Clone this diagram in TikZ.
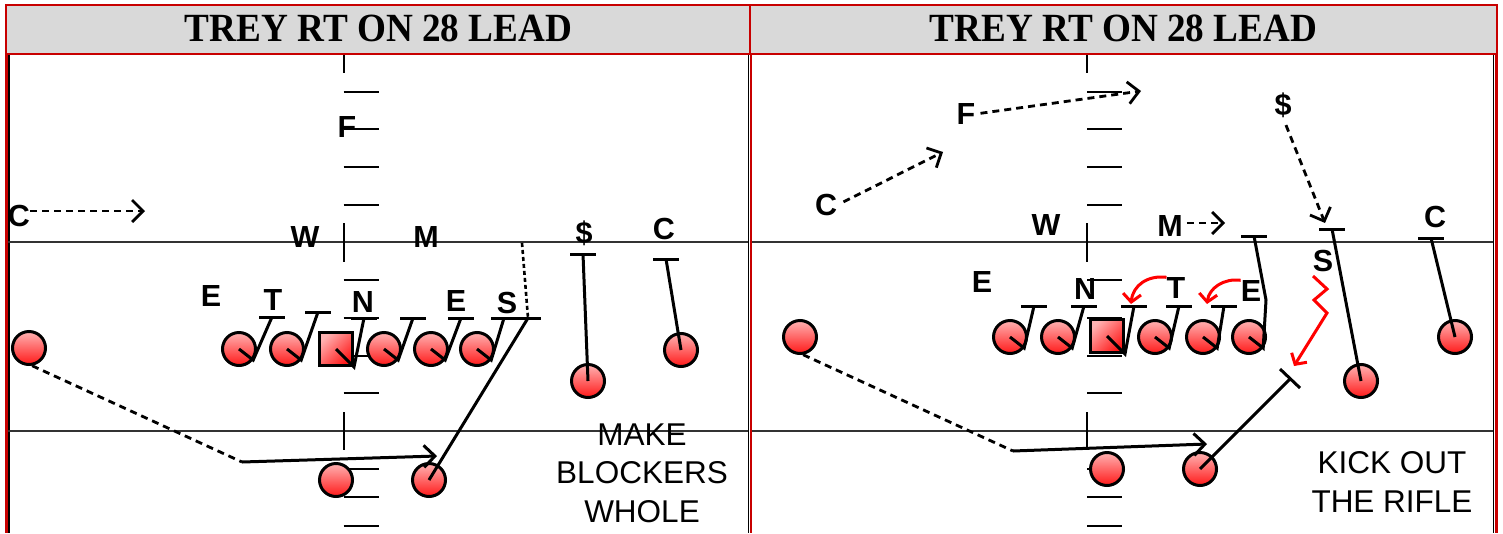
\documentclass[tikz,border=0pt]{standalone}
\usepackage{fontspec}
\setmainfont{Liberation Sans}
\newfontfamily\titlefont[FakeStretch=0.93]{Liberation Serif}
\usetikzlibrary{arrows.meta}
\definecolor{hdrred}{RGB}{200,0,0}
\definecolor{hdrgray}{RGB}{217,217,217}
\definecolor{ballhi}{RGB}{255,178,178}
\definecolor{balllo}{RGB}{255,25,25}
\newcommand\mybar[1]{\draw[blk] ([xshift=-13pt]#1) -- ([xshift=13pt]#1);}
\begin{document}
\begin{tikzpicture}[x=1pt,y=-1pt,
  hdr/.style={fill=hdrgray,draw=hdrred,line width=2.5pt},
  ttl/.style={font=\titlefont\bfseries\fontsize{40}{40}\selectfont,inner sep=0pt},
  fld/.style={line width=2pt,draw=black!80},
  hash/.style={line width=2pt,draw=black},
  redside/.style={line width=2.5pt,draw=hdrred},
  blkside/.style={line width=1.5pt,draw=black},
  plr/.style={circle,draw=black,line width=3pt,minimum size=33pt,inner sep=0pt,top color=ballhi,bottom color=balllo},
  ctr/.style={rectangle,draw=black,line width=3pt,minimum size=33pt,inner sep=0pt,top color=ballhi,bottom color=balllo,shading angle=45},
  lbl/.style={font=\bfseries\fontsize{30.5}{30.5}\selectfont,inner sep=0pt},
  note/.style={font=\fontsize{31.5}{38.5}\selectfont,inner sep=0pt,align=center},
  dsh/.style={line width=2.8pt,dash pattern=on 7pt off 5pt},
  dotl/.style={line width=2.6pt,dash pattern=on 4pt off 3pt},
  arr/.style={-{Straight Barb[length=11pt,width=22pt]}},
  rarr/.style={-{Straight Barb[length=8pt,width=18pt]}},
  blk/.style={line width=3pt},
  redl/.style={line width=3pt,draw=red}]
\useasboundingbox (0,0) rectangle (1503,533);
% headers
\draw[hdr] (6,5) rectangle (751,54);
\draw[hdr] (750,5) rectangle (1497,54);
\node[ttl] (t1) at (378.5,28.5) {TREY RT ON 28 LEAD};
\node[ttl] (t2) at (1123.5,28.5) {TREY RT ON 28 LEAD};
% side lines
\draw[blkside] (9,55) -- (9,533);
\draw[blkside] (748.5,55) -- (748.5,533);
\draw[blkside] (1493.5,55) -- (1493.5,533);
\draw[redside] (6.5,55) -- (6.5,533);
\draw[redside] (751,55) -- (751,533);
\draw[redside] (1496.5,55) -- (1496.5,533);
% field lines
\draw[fld] (8,242) -- (748,242);
\draw[fld] (8,431) -- (748,431);
\draw[fld] (752,242) -- (1493,242);
\draw[fld] (752,431) -- (1493,431);
\foreach \hx in {343.5,1087}{
  \foreach \yy in {92,129,167,205,280,318,356,393,469,497,526}
    \draw[hash] (\hx,\yy) -- (\hx+35,\yy);
  \draw[hash] (\hx,55) -- (\hx,73);
  \draw[hash] (\hx,223) -- (\hx,262);
  \draw[hash] (\hx,412) -- (\hx,450);
}
% ================= LEFT PANEL =================
\node[plr] (lwr) at (29,348) {};
\node[plr] (lg1) at (239,349) {};
\node[plr] (lg2) at (287,349) {};
\node[ctr] (lc) at (336,349) {};
\node[plr] (lg4) at (384,349) {};
\node[plr] (lg5) at (431,349) {};
\node[plr] (lg6) at (477,349) {};
\node[plr] (lsl) at (588,381) {};
\node[plr] (lwr2) at (681,350) {};
\node[plr] (lqb) at (336,480) {};
\node[plr] (lte) at (429,480) {};
% defense labels
\node[lbl] (lC) at (19,216) {C};
\node[lbl] (lF) at (347,127) {F};
\node[lbl] (lW) at (305,237) {W};
\node[lbl] (lM) at (426,237) {M};
\node[lbl] (lD) at (584,233) {\$};
\node[lbl] (lC2) at (664,229) {C};
\node[lbl] (lE) at (211,296) {E};
\node[lbl] (lT) at (273,300) {T};
\node[lbl] (lN) at (363,302) {N};
\node[lbl] (lE2) at (456,301) {E};
\node[lbl] (lS) at (507,303) {S};
% coordinates
\coordinate (lcA) at (145,211);
\coordinate (lrb) at (242,462);
\coordinate (lrbA) at (437,456);
\coordinate (lb1) at (272,317);
\coordinate (lb2) at (318,312);
\coordinate (lb3) at (364,318);
\coordinate (lb4) at (413,318);
\coordinate (lb5) at (461,318);
\coordinate (lb6) at (504,318);
\coordinate (lbs) at (528,318);
\coordinate (lsd) at (522,243);
\coordinate (lbd) at (583,254);
\coordinate (lbc) at (666,259);
% routes
\draw[dsh,arr] (lC.east |- lcA) -- (lcA);
\draw[dsh] (lwr.-80) -- (lrb);
\draw[blk,arr] (lrb) -- (lrbA);
\draw[blk] (lg1.center) -- (lg1.-38) -- (lb1); \mybar{lb1}
\draw[blk] (lg2.center) -- (lg2.-38) -- (lb2); \mybar{lb2}
\draw[blk] (lc.center) -- (lc.south east) -- (lb3); \mybar{lb3}
\draw[blk] (lg4.center) -- (lg4.-38) -- (lb4); \mybar{lb4}
\draw[blk] (lg5.center) -- (lg5.-38) -- (lb5); \mybar{lb5}
\draw[blk] (lg6.center) -- (lg6.-38) -- (lb6); \mybar{lb6}
\draw[blk] (lte.center) -- (lbs); \mybar{lbs}
\draw[dotl] (lsd) -- (lbs);
\draw[blk] (lsl.center) -- (lbd); \mybar{lbd}
\draw[blk] (lwr2.center) -- (lbc); \mybar{lbc}
\node[note] (ln) at (642,473) {MAKE\\BLOCKERS\\WHOLE};
% ================= RIGHT PANEL =================
\node[plr] (rwr) at (800,337) {};
\node[plr] (rg1) at (1010,337) {};
\node[plr] (rg2) at (1058,337) {};
\node[ctr] (rc) at (1107,336) {};
\node[plr] (rg4) at (1155,337) {};
\node[plr] (rg5) at (1203,337) {};
\node[plr] (rg6) at (1249,337) {};
\node[plr] (rsl) at (1361,381) {};
\node[plr] (rwr2) at (1455,337) {};
\node[plr] (rqb) at (1107,469) {};
\node[plr] (rfb) at (1200,469) {};
\node[lbl] (rC) at (826,205) {C};
\node[lbl] (rF) at (966,114) {F};
\node[lbl] (rW) at (1046,225) {W};
\node[lbl] (rM) at (1170,226) {M};
\node[lbl] (rD) at (1283,105) {\$};
\node[lbl] (rC2) at (1435,217) {C};
\node[lbl] (rS) at (1323,261) {S};
\node[lbl] (rE) at (982,282) {E};
\node[lbl] (rN) at (1085,289) {N};
\node[lbl] (rT) at (1176,288) {T};
\node[lbl] (rE2) at (1251,291) {E};
\coordinate (rcA) at (943,152);
\coordinate (rfA) at (1141,91);
\coordinate (rmA) at (1225,223);
\coordinate (rdA) at (1325,223);
\coordinate (rrb) at (1013,451);
\coordinate (rrbA) at (1207,444);
\coordinate (rb1) at (1034,306);
\coordinate (rb2) at (1084,306);
\coordinate (rb3) at (1134,306);
\coordinate (rb4) at (1179,306);
\coordinate (rb5) at (1224,306);
\coordinate (rk6) at (1266,300);
\coordinate (rb6) at (1254,236);
\coordinate (rbs) at (1332,229);
\coordinate (rbc) at (1431,238);
\coordinate (rkb) at (1290,379);
\coordinate (rk1) at (1280,369);
\coordinate (rk2) at (1300,388);
\coordinate (ra1) at (1131,304);
\coordinate (ra2) at (1207,304);
\coordinate (rz0) at (1313,276);
\coordinate (rzA) at (1294,366);
\draw[dsh,arr,shorten <=7pt] (rC.east) -- (rcA);
\draw[dsh,arr,shorten <=5pt] (rF.east) -- (rfA);
\draw[dsh,arr,shorten <=4pt] (rM.east |- rmA) -- (rmA);
\draw[dsh,arr,shorten <=8pt] (rD.south) -- (rdA);
\draw[dsh] (rwr.-80) -- (rrb);
\draw[blk,arr] (rrb) -- (rrbA);
\draw[blk] (rg1.center) -- (rg1.-38) -- (rb1); \mybar{rb1}
\draw[blk] (rg2.center) -- (rg2.-38) -- (rb2); \mybar{rb2}
\draw[blk] (rc.center) -- (rc.south east) -- (rb3); \mybar{rb3}
\draw[blk] (rg4.center) -- (rg4.-38) -- (rb4); \mybar{rb4}
\draw[blk] (rg5.center) -- (rg5.-38) -- (rb5); \mybar{rb5}
\draw[blk] (rg6.center) -- (rg6.-38) -- (rk6) -- (rb6); \mybar{rb6}
\draw[blk] (rsl.center) -- (rbs); \mybar{rbs}
\draw[blk] (rwr2.center) -- (rbc); \mybar{rbc}
\draw[blk] (rfb.center) -- (rkb);
\draw[blk] (rk1) -- (rk2);
\draw[redl,rarr] (rT.north west) .. controls (1148,275) and (1133,285) .. (ra1);
\draw[redl,rarr] (rE2.north west) .. controls (1224,278) and (1209,288) .. (ra2);
\draw[redl,rarr] (rz0) -- (1327,289) -- (1314,300) -- (1327,313) -- (rzA);
\node[note] (rn) at (1392,482) {KICK OUT\\THE RIFLE};
\end{tikzpicture}
\end{document}
